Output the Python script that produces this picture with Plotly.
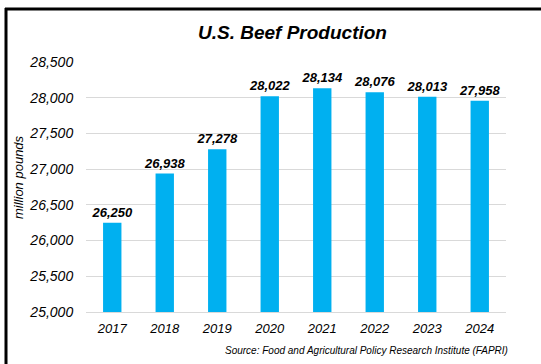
import plotly.graph_objects as go

years = ["2017", "2018", "2019", "2020", "2021", "2022", "2023", "2024"]
production = [26250, 26938, 27278, 28022, 28134, 28076, 28013, 27958]
y_ticks = [25000, 25500, 26000, 26500, 27000, 27500, 28000, 28500]

FONT = "Arial, Liberation Sans, sans-serif"
W, H = 541, 364
L, R, T, B = 86, 35, 62, 52
pw, ph = W - L - R, H - T - B


def px_x(x):
    return (x - L) / pw


def px_y(y):
    return (H - B - y) / ph


fig = go.Figure()
fig.add_trace(go.Bar(
    x=years,
    y=production,
    width=0.35,
    marker=dict(color="#00B0F0", line=dict(width=0)),
    text=[f"<b><i>{v:,}</i></b>" for v in production],
    textposition="outside",
    constraintext="none",
    textfont=dict(family=FONT, size=13, color="#000000"),
    cliponaxis=False,
))

fig.update_layout(
    width=W, height=H,
    margin=dict(l=L, r=R, t=T, b=B),
    paper_bgcolor="white",
    plot_bgcolor="white",
    showlegend=False,
    xaxis=dict(
        type="category",
        tickfont=dict(family=FONT, size=13, color="#000000", style="italic"),
        showgrid=False,
        showline=True, linecolor="#D9D9D9", linewidth=1,
        ticks="outside", ticklen=4, tickcolor="white",
    ),
    yaxis=dict(
        range=[25000, 28500],
        tickvals=y_ticks,
        ticktext=[f"<i>{v:,}</i>" for v in y_ticks],
        tickfont=dict(family=FONT, size=14, color="#000000", style="italic"),
        showgrid=True, gridcolor="#D9D9D9", gridwidth=1,
        zeroline=False,
        ticks="outside", ticklen=9, tickcolor="white",
    ),
    annotations=[
        dict(text="<b><i>U.S. Beef Production</i></b>",
             xref="paper", yref="paper", x=px_x(292), y=px_y(33),
             xanchor="center", yanchor="middle", showarrow=False,
             font=dict(family=FONT, size=19, color="#000000")),
        dict(text="<i>million pounds</i>",
             xref="paper", yref="paper", x=px_x(18), y=px_y(177),
             xanchor="center", yanchor="middle", showarrow=False,
             textangle=-90,
             font=dict(family=FONT, size=13, color="#000000")),
        dict(text="<i>Source: Food and Agricultural Policy Research Institute (FAPRI)</i>",
             xref="paper", yref="paper", x=px_x(510), y=px_y(350),
             xanchor="right", yanchor="middle", showarrow=False,
             font=dict(family=FONT, size=10, color="#000000")),
    ],
    shapes=[
        dict(type="line", xref="paper", yref="paper",
             x0=px_x(5), x1=px_x(541), y0=px_y(9), y1=px_y(9),
             line=dict(color="#000000", width=3)),
        dict(type="line", xref="paper", yref="paper",
             x0=px_x(6), x1=px_x(6), y0=px_y(8), y1=px_y(364),
             line=dict(color="#000000", width=3)),
    ],
)

fig.write_html("out.html")
